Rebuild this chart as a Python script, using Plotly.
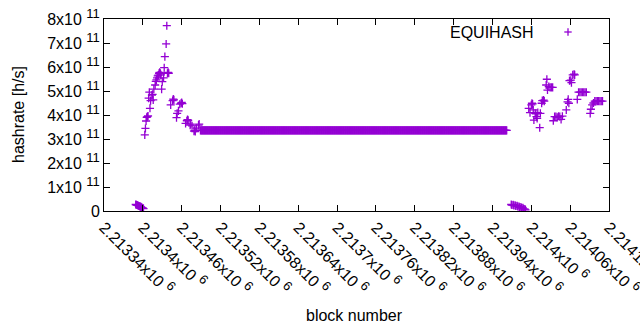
import plotly.graph_objects as go

# ---------------- data ----------------
# hashrate values in units of 1e11 h/s
left_drop_blocks = [2213389, 2213390, 2213391, 2213392, 2213393, 2213394, 2213395,
                    2213396, 2213397, 2213398, 2213399, 2213400, 2213401]
left_drop_vals = [0.27, 0.26, 0.25, 0.24, 0.22, 0.21, 0.20, 0.18, 0.17, 0.15, 0.13, 0.12, 0.10]

rise_blocks = [2213403, 2213404, 2213405, 2213406, 2213407, 2213408, 2213409, 2213410,
               2213411, 2213412, 2213414, 2213415, 2213416, 2213417, 2213419, 2213420,
               2213421, 2213422, 2213423, 2213424, 2213425, 2213426, 2213427, 2213428,
               2213429, 2213430, 2213432, 2213433, 2213434, 2213436, 2213437, 2213438,
               2213439, 2213440]
rise_vals = [3.17, 3.44, 3.75, 3.90, 3.93, 3.96, 4.70, 4.95, 4.28, 4.60, 4.83, 4.86,
             4.63, 5.08, 5.25, 5.40, 5.46, 5.55, 5.63, 5.66, 5.74, 5.78, 5.74, 5.67,
             5.08, 5.39, 5.55, 5.97, 6.43, 6.96, 7.72, 5.74, 5.78, 5.74]

fall_blocks = [2213443, 2213446, 2213447, 2213448, 2213452, 2213453, 2213455, 2213457,
               2213459, 2213460, 2213461, 2213466, 2213468, 2213469, 2213470, 2213473,
               2213474, 2213476, 2213479, 2213480, 2213481, 2213483, 2213486, 2213487]
fall_vals = [4.42, 4.60, 4.66, 4.63, 3.89, 4.07, 4.17, 4.45, 4.49, 4.52, 4.47, 3.65,
             3.76, 3.81, 3.78, 3.58, 3.62, 3.55, 3.33, 3.36, 3.31, 3.45, 3.58, 3.62]

flat_start, flat_end, flat_val = 2213489, 2213962, 3.36

right_drop_blocks = [2213969, 2213970, 2213972, 2213973, 2213975, 2213976, 2213978,
                     2213979, 2213981, 2213982, 2213984, 2213985, 2213987, 2213988,
                     2213990, 2213991]
right_drop_vals = [0.27, 0.25, 0.26, 0.23, 0.24, 0.21, 0.22, 0.19, 0.18, 0.15, 0.16,
                   0.12, 0.13, 0.09, 0.08, 0.05]

right_blocks = [2213996, 2213998, 2214000, 2214001, 2214002, 2214003, 2214004, 2214006,
                2214007, 2214008, 2214009, 2214010, 2214013, 2214014, 2214016, 2214017,
                2214019, 2214020, 2214023, 2214024, 2214025, 2214027, 2214029, 2214031,
                2214033, 2214034, 2214036, 2214038, 2214040, 2214042, 2214044, 2214046,
                2214048, 2214054, 2214056, 2214057, 2214058, 2214059, 2214061, 2214062,
                2214064, 2214066, 2214067, 2214071, 2214073, 2214075, 2214077, 2214079,
                2214081, 2214083, 2214085, 2214091, 2214092, 2214094, 2214096, 2214098,
                2214100, 2214102, 2214104, 2214106, 2214108, 2214110]
right_vals = [4.28, 4.10, 4.42, 4.49, 4.46, 4.21, 3.79, 4.07, 4.05, 3.93, 3.86, 4.10,
              3.47, 4.07, 4.49, 4.60, 4.62, 4.58, 5.25, 5.49, 5.04, 5.18, 5.15, 5.15,
              5.15, 3.76, 3.93, 3.93, 3.90, 3.95, 3.93, 3.82, 3.95, 4.21, 4.55, 4.65,
              4.49, 5.43, 5.45, 5.35, 5.67, 5.70, 5.67, 4.65, 4.95, 4.95, 4.95, 4.95,
              4.95, 4.95, 4.95, 4.07, 4.24, 4.42, 4.50, 4.58, 4.58, 4.58, 4.58, 4.58,
              4.58, 4.58]

x_tick_vals = [2213340, 2213400, 2213460, 2213520, 2213580, 2213640, 2213700,
               2213760, 2213820, 2213880, 2213940, 2214000, 2214060, 2214120]
x_tick_mantissas = ["2.21334", "2.2134", "2.21346", "2.21352", "2.21358", "2.21364",
                    "2.2137", "2.21376", "2.21382", "2.21388", "2.21394", "2.214",
                    "2.21406", "2.21412"]
y_tick_mult = [0, 1, 2, 3, 4, 5, 6, 7, 8]

series_name = "EQUIHASH"
x_title = "block number"
y_title = "hashrate [h/s]"

# ---------------- assemble ----------------
flat_blocks = list(range(flat_start, flat_end + 1))
flat_vals = [flat_val] * len(flat_blocks)

blocks = (left_drop_blocks + rise_blocks + fall_blocks + flat_blocks
          + right_drop_blocks + right_blocks)
vals = (left_drop_vals + rise_vals + fall_vals + flat_vals
        + right_drop_vals + right_vals)
hashrate = [v * 1e11 for v in vals]

PURPLE = "#9400D3"
FONT = "Liberation Sans, Arial, sans-serif"
FS = 16
SUP = '<sup><span style="font-size:13px">{}</span></sup>'

fig = go.Figure()
fig.add_trace(go.Scatter(
    x=blocks, y=hashrate, mode="markers", name=series_name,
    marker=dict(symbol="cross-thin", size=5.8, color=PURPLE,
                line=dict(color=PURPLE, width=1.3)),
    showlegend=False, hoverinfo="skip",
))

x_tick_text = [m + "x10 " + SUP.format(6) for m in x_tick_mantissas]
y_tick_vals = [k * 1e11 for k in y_tick_mult]
y_tick_text = ["0" if k == 0 else f"{k}x10 " + SUP.format(11) for k in y_tick_mult]

W, H = 640, 330
L, R, T, B = 104, 31, 19, 119

fig.update_layout(
    width=W, height=H, template="none",
    margin=dict(l=L, r=R, t=T, b=B, pad=0),
    paper_bgcolor="white", plot_bgcolor="white",
    font=dict(family=FONT, size=FS, color="#000000"),
    xaxis=dict(range=[x_tick_vals[0], x_tick_vals[-1]], tickvals=x_tick_vals,
               ticktext=x_tick_text, tickangle=45, ticks="inside", ticklen=6,
               tickwidth=1, tickcolor="black", showline=True, linecolor="black",
               linewidth=1, mirror="ticks", showgrid=False, zeroline=False,
               automargin=False, tickfont=dict(size=FS),
               ticklabeloverflow="allow"),
    yaxis=dict(range=[0, 8e11], tickvals=y_tick_vals, ticktext=y_tick_text,
               ticks="inside", ticklen=6, tickwidth=1, tickcolor="black",
               showline=True, linecolor="black", linewidth=1, mirror="ticks",
               showgrid=False, zeroline=False, automargin=False,
               tickfont=dict(size=FS), ticklabeloverflow="allow"),
    annotations=[
        dict(text=y_title, xref="paper", yref="paper", x=-(L - 18) / (W - L - R),
             y=1 - (115 - T) / (H - T - B), textangle=-90, showarrow=False,
             xanchor="center", yanchor="middle", font=dict(size=FS)),
        dict(text=x_title, xref="paper", yref="paper",
             x=(354 - L) / (W - L - R), y=-(315 - (H - B)) / (H - T - B),
             showarrow=False, xanchor="center", yanchor="middle",
             font=dict(size=FS)),
        dict(text=series_name, xref="paper", yref="paper",
             x=(536 - L) / (W - L - R), y=1 - (32 - T) / (H - T - B),
             showarrow=False, xanchor="right", yanchor="middle",
             font=dict(size=FS)),
    ],
)

# legend key sample (a "+" in the key area, drawn in paper coordinates)
kx = (568 - L) / (W - L - R)
ky = 1 - (32 - T) / (H - T - B)
dx = 3.7 / (W - L - R)
dy = 3.7 / (H - T - B)
fig.add_shape(type="line", xref="paper", yref="paper", x0=kx - dx, x1=kx + dx,
              y0=ky, y1=ky, line=dict(color=PURPLE, width=1.3))
fig.add_shape(type="line", xref="paper", yref="paper", x0=kx, x1=kx,
              y0=ky - dy, y1=ky + dy, line=dict(color=PURPLE, width=1.3))

fig.write_html("out.html",
               config={"displayModeBar": False, "staticPlot": True},
               post_script="document.body.style.margin='0px';"
                           "document.body.style.overflow='hidden';")
